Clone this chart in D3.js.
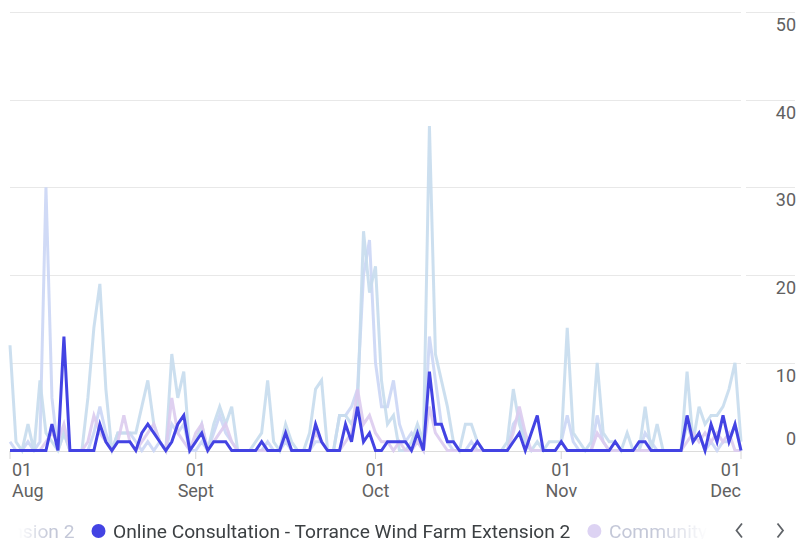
<!DOCTYPE html>
<html>
<head>
<meta charset="utf-8">
<script src="https://cdnjs.cloudflare.com/ajax/libs/d3/7.8.5/d3.min.js"></script>
<style>
  body { margin: 0; background: #fff; }
  #chart svg { display: block; font-family: Roboto, "Noto Sans", sans-serif; }
</style>
</head>
<body>
<div id="chart"></div>
<script>
// daily values, 1 Aug -> 1 Dec
var firstDay = new Date(2022, 7, 1);
var monthLabels = ["Aug", "Sept", "Oct", "Nov", "Dec"];
var yTicks = [0, 10, 20, 30, 40, 50];

var seriesNames = [
  "Website Visits - Torrance Wind Farm Extension 2",
  "Document Downloads - Torrance Wind Farm Extension 2",
  "Online Consultation - Torrance Wind Farm Extension 2",
  "Community Feedback - Torrance Wind Farm Extension 2"
];

var websiteVisits = [
  1, 0, 0, 1, 0, 1, 30, 6, 0, 2,
  0, 0, 0, 0, 2, 5, 2, 0, 2, 2,
  2, 1, 0, 1, 0, 1, 0, 3, 2, 3,
  0, 0, 1, 0, 2, 4, 2, 1, 0, 0,
  0, 0, 0, 1, 0, 0, 1, 0, 0, 0,
  0, 1, 1, 0, 0, 4, 4, 5, 7, 20,
  24, 10, 5, 5, 8, 3, 1, 2, 1, 0,
  13, 8, 3, 1, 0, 0, 0, 1, 0, 0,
  0, 0, 0, 0, 3, 4, 1, 0, 0, 0,
  0, 0, 1, 4, 1, 0, 0, 0, 4, 1,
  0, 0, 0, 0, 0, 0, 2, 1, 0, 0,
  0, 0, 0, 3, 1, 2, 0, 1, 0, 1,
  1, 3, 0
];

var documentDownloads = [
  12, 1, 0, 3, 0, 8, 2, 1, 0, 2,
  0, 0, 0, 6, 14, 19, 7, 0, 2, 2,
  2, 2, 5, 8, 3, 1, 0, 11, 6, 9,
  0, 1, 3, 0, 3, 5, 3, 5, 0, 0,
  0, 1, 2, 8, 1, 0, 3, 1, 0, 0,
  2, 7, 8, 0, 0, 4, 4, 3, 5, 25,
  18, 21, 8, 3, 4, 0, 0, 1, 3, 1,
  37, 11, 8, 5, 1, 0, 3, 3, 1, 0,
  0, 0, 0, 1, 7, 3, 1, 0, 1, 0,
  1, 1, 1, 14, 2, 1, 0, 1, 10, 2,
  1, 1, 0, 2, 0, 0, 5, 0, 3, 0,
  0, 0, 0, 9, 1, 5, 3, 4, 4, 5,
  7, 10, 1
];

var onlineConsultation = [
  0, 0, 0, 0, 0, 0, 0, 3, 0, 13,
  0, 0, 0, 0, 0, 3, 1, 0, 1, 1,
  1, 0, 2, 3, 2, 1, 0, 1, 3, 4,
  0, 1, 2, 0, 1, 1, 1, 0, 0, 0,
  0, 0, 1, 0, 0, 0, 2, 0, 0, 0,
  0, 3, 1, 0, 0, 0, 3, 1, 5, 1,
  2, 0, 0, 1, 1, 1, 1, 0, 2, 0,
  9, 3, 3, 1, 1, 0, 0, 0, 1, 0,
  0, 0, 0, 0, 1, 2, 0, 2, 4, 0,
  0, 0, 1, 0, 0, 0, 0, 0, 0, 0,
  0, 1, 0, 0, 0, 1, 1, 0, 0, 0,
  0, 0, 0, 4, 1, 2, 0, 3, 1, 4,
  1, 3, 0
];

var communityFeedback = [
  0, 0, 0, 0, 0, 0, 1, 2, 1, 3,
  0, 0, 0, 1, 4, 2, 1, 0, 1, 4,
  1, 0, 1, 2, 3, 1, 0, 6, 2, 1,
  0, 2, 3, 0, 1, 2, 3, 1, 0, 0,
  0, 0, 0, 0, 0, 0, 2, 0, 0, 0,
  0, 2, 1, 0, 0, 0, 1, 2, 7, 3,
  4, 2, 1, 1, 0, 1, 0, 0, 1, 0,
  5, 2, 1, 0, 0, 0, 0, 0, 0, 0,
  0, 0, 0, 0, 2, 5, 2, 0, 0, 0,
  0, 0, 1, 0, 0, 0, 0, 0, 2, 1,
  0, 0, 0, 0, 0, 0, 0, 0, 0, 0,
  0, 0, 0, 1, 2, 1, 2, 1, 2, 1,
  2, 0, 0
];

document.addEventListener('DOMContentLoaded', function () {
  var w = 797;
  var h = 539;
  var svg = d3.select('#chart').
  append('svg').
  attr('width', w).
  attr('height', h);

  var lastDay = d3.timeDay.offset(firstDay, onlineConsultation.length - 1);
  var x = d3.scaleTime().domain([firstDay, lastDay]).range([10, 741]);
  var y = d3.scaleLinear().domain([0, 50]).range([450.5, 12]);
  var dayOf = i => d3.timeDay.offset(firstDay, i);

  // horizontal grid, with the short piece behind the labels on the right
  var grid = svg.append('g');
  grid.selectAll('.g1').
  data(yTicks).
  enter().
  append('line').
  attr('x1', 10).
  attr('x2', 741).
  attr('y1', d => Math.round(y(d)) + 0.5).
  attr('y2', d => Math.round(y(d)) + 0.5).
  attr('stroke', d => d === 0 ? '#dcdcdc' : '#e8e8e8');
  grid.selectAll('.g2').
  data(yTicks.filter(d => d > 0)).
  enter().
  append('line').
  attr('x1', 746).
  attr('x2', 795).
  attr('y1', d => Math.round(y(d)) + 0.5).
  attr('y2', d => Math.round(y(d)) + 0.5).
  attr('stroke', '#e8e8e8');

  svg.selectAll('.ylab').
  data(yTicks).
  enter().
  append('text').
  attr('x', 796).
  attr('y', d => d === 0 ? y(d) - 6 : y(d) + 19).
  attr('text-anchor', 'end').
  style('font-size', '18px').
  style('fill', '#616161').
  text(d => d);

  // month ticks
  var months = d3.timeMonth.range(firstDay, d3.timeDay.offset(lastDay, 1));
  var mt = svg.selectAll('.mt').
  data(months).
  enter().
  append('g').
  attr('transform', d => 'translate(' + x(d) + ',0)');
  mt.append('line').
  attr('y1', 451).
  attr('y2', 459).
  attr('stroke', '#d6d6d6');
  var anchorOf = (d, i) => i === 0 ? 'start' : i === months.length - 1 ? 'end' : 'middle';
  var dxOf = (d, i) => i === 0 ? 2 : 0;
  mt.append('text').
  attr('x', dxOf).
  attr('y', 476).
  attr('text-anchor', anchorOf).
  style('font-size', '18px').
  style('fill', '#616161').
  text(d3.timeFormat('%d'));
  mt.append('text').
  attr('x', dxOf).
  attr('y', 497).
  attr('text-anchor', anchorOf).
  style('font-size', '18px').
  style('fill', '#616161').
  text((d, i) => monthLabels[i]);

  // lines (faded ones first, highlighted on top)
  var series = [
    { values: websiteVisits, color: '#cbd6f5' },
    { values: documentDownloads, color: '#c7dbed' },
    { values: communityFeedback, color: '#dccbee' },
    { values: onlineConsultation, color: '#4343e3' }
  ];
  var line = d3.line().
  x((d, i) => x(dayOf(i))).
  y(d => y(d));
  svg.selectAll('.series').
  data(series).
  enter().
  append('path').
  attr('d', d => line(d.values)).
  attr('fill', 'none').
  attr('stroke', d => d.color).
  attr('stroke-width', 3).
  attr('stroke-linejoin', 'miter').
  attr('opacity', (d, i) => i === 3 ? 1 : 0.9);

  // legend: scrolled row, highlighted item at 91px, faded edges
  var legendDots = ['#d3dbf5', '#cddff0', '#4343e3', '#ddd3f3'];
  var active = 2;
  var defs = svg.append('defs');
  var grad = defs.append('linearGradient').
  attr('id', 'fadeGrad').
  attr('gradientUnits', 'userSpaceOnUse').
  attr('x1', 0).attr('x2', 708).attr('y1', 0).attr('y2', 0);
  grad.append('stop').attr('offset', 0).attr('stop-color', 'white').attr('stop-opacity', 0);
  grad.append('stop').attr('offset', 18 / 708).attr('stop-color', 'white').attr('stop-opacity', 0);
  grad.append('stop').attr('offset', 50 / 708).attr('stop-color', 'white').attr('stop-opacity', 1);
  grad.append('stop').attr('offset', 655 / 708).attr('stop-color', 'white').attr('stop-opacity', 1);
  grad.append('stop').attr('offset', 1).attr('stop-color', 'white').attr('stop-opacity', 0);
  defs.append('mask').
  attr('id', 'fadeMask').
  append('rect').
  attr('x', 0).attr('y', 505).attr('width', 708).attr('height', 34).
  attr('fill', 'url(#fadeGrad)');

  var legend = svg.append('g').attr('mask', 'url(#fadeMask)');
  var items = legend.selectAll('.legend').
  data(seriesNames).
  enter().
  append('g').
  attr('class', 'legend');
  items.append('circle').
  attr('r', 7).
  attr('cy', 531).
  attr('fill', (d, i) => legendDots[i]);
  items.append('text').
  attr('y', 537.5).
  style('font-size', '19.2px').
  style('fill', (d, i) => i === active ? '#3c4043' : '#c4c8d8').
  text(d => d);

  var widths = [];
  items.select('text').each(function (d, i) { widths[i] = this.getComputedTextLength(); });
  var left = [];
  left[active] = 91.5;
  for (var i = active + 1; i < seriesNames.length; i++) left[i] = left[i - 1] + 21.5 + widths[i - 1] + 17;
  for (var j = active - 1; j >= 0; j--) left[j] = left[j + 1] - 17 - widths[j] - 21.5;
  items.select('circle').attr('cx', (d, i) => left[i] + 7);
  items.select('text').attr('x', (d, i) => left[i] + 21.5);

  // paging arrows
  svg.append('path').
  attr('d', 'M742,523.5 L736.5,530.5 L742,537.5').
  attr('fill', 'none').
  attr('stroke', '#5f6368').
  attr('stroke-width', 1.8);
  svg.append('path').
  attr('d', 'M777.5,523.5 L783,530.5 L777.5,537.5').
  attr('fill', 'none').
  attr('stroke', '#5f6368').
  attr('stroke-width', 1.8);
});
</script>
</body>
</html>
